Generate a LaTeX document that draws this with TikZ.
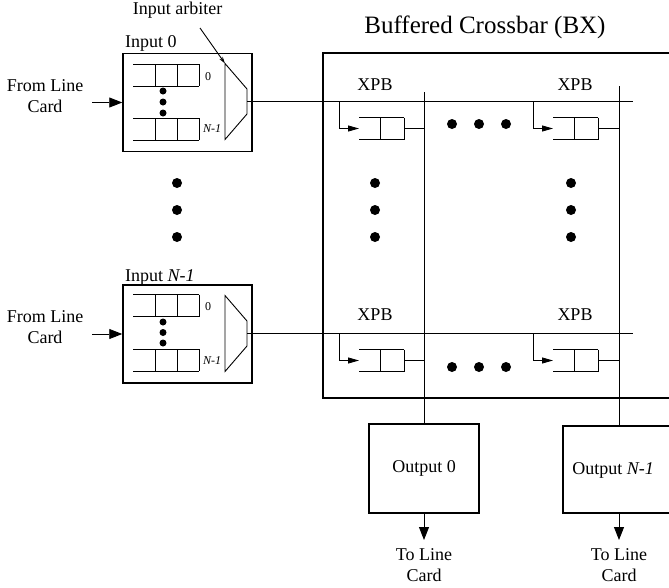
\documentclass[tikz,border=0pt]{standalone}
\usepackage{fontspec}
\setmainfont{Liberation Serif}
\usetikzlibrary{arrows.meta}
\begin{document}
\begin{tikzpicture}[x=1pt,y=-1pt,
  thinline/.style={line width=0.9pt},
  boxline/.style={line width=1.5pt},
  lbl/.style={font=\fontsize{18}{21}\selectfont, inner sep=0pt, align=center},
  ttl/.style={font=\fontsize{25}{28}\selectfont, inner sep=0pt},
  smalllbl/.style={font=\fontsize{12}{14}\selectfont, inner sep=0pt},
  bigdot/.style={circle, fill=black, inner sep=0pt, minimum size=10pt},
  smalldot/.style={circle, fill=black, inner sep=0pt, minimum size=7pt},
  bigtip/.style={-{Triangle[length=13pt,width=10pt]}},
  xtip/.style={-{Triangle[length=11pt,width=6pt]}},
  inbox/.style={draw, boxline, minimum width=129pt, minimum height=98pt, inner sep=0pt},
  outbox/.style={draw, boxline, minimum width=110pt, minimum height=89pt, inner sep=0pt},
  inq/.pic={\draw[thinline] (0,-11) -- (66,-11) (0,11) -- (66,11)
      (22,-11) -- (22,11) (44,-11) -- (44,11) (66,-11) -- (66,11);},
  arbiter/.pic={\draw[thinline] (0,-38) -- (22,-12.5) -- (22,12.5) -- (0,38) -- cycle;},
  xpb/.pic={\draw[thinline, xtip] (0,0) -- (0,27) -- (20,27);
      \draw[thinline] (20,16) -- (65,16) (20,38) -- (65,38)
      (41,16) -- (41,38) (65,16) -- (65,38) (65,27) -- (86,27);},
]
\useasboundingbox (0,0) rectangle (669,587);

% ---------- title ----------
\node[ttl] (title) at (485,27) {Buffered Crossbar (BX)};

% ---------- input 0 ----------
\node[lbl] (arbtxt) at (177.5,10) {Input arbiter};
\node[lbl, anchor=west] (in0lbl) at (125,43) {Input 0};
\node[inbox] (in0) at (187.5,102.5) {};
\pic at (133,75) {inq};
\pic at (133,129) {inq};
\node[smalllbl] (q00) at (208,77) {0};
\node[smalllbl] (q0n) at (212,129) {\itshape N-1};
\node[smalldot] (sd01) at (163,91) {};
\node[smalldot] (sd02) at (163,102) {};
\node[smalldot] (sd03) at (163,113) {};
\pic at (225,101.5) {arbiter};
\coordinate (arb0) at (247,101.5);
\coordinate (arbtop0) at (225,63.5);
\coordinate (arbsrc) at (200,28);
\draw[thinline, -{Stealth[length=7pt,width=4pt]}] (arbsrc) -- (arbtop0);
\node[lbl] (flc0) at (45,96.5) {From Line\\Card};
\coordinate (fa0) at (92,102.5);
\draw[thinline, bigtip] (fa0) -- (in0.west);

% ---------- input N-1 ----------
\node[lbl, anchor=west] (in1lbl) at (125,277) {Input \textit{N-1}};
\node[inbox] (in1) at (187.5,334) {};
\pic at (133,305.5) {inq};
\pic at (133,360) {inq};
\node[smalllbl] (q10) at (208,307) {0};
\node[smalllbl] (q1n) at (212,361) {\itshape N-1};
\node[smalldot] (sd11) at (163,322) {};
\node[smalldot] (sd12) at (163,332.5) {};
\node[smalldot] (sd13) at (163,343) {};
\pic at (225,333.5) {arbiter};
\coordinate (arb1) at (247,333.5);
\node[lbl] (flc1) at (45,327) {From Line\\Card};
\coordinate (fa1) at (92,334);
\draw[thinline, bigtip] (fa1) -- (in1.west);

% ---------- dots between inputs ----------
\node[bigdot] (ld1) at (177,183) {};
\node[bigdot] (ld2) at (177,210) {};
\node[bigdot] (ld3) at (177,237) {};

% ---------- crossbar ----------
\draw[boxline] (669,53) -- (323,53) -- (323,398) -- (669,398);

\coordinate (row0end) at (633,101.5);
\coordinate (row1end) at (633,333.5);
\draw[thinline] (arb0) -- (row0end);
\draw[thinline] (arb1) -- (row1end);

% outputs
\node[outbox, lbl] (out0) at (424,468.5) {Output 0};
\draw[boxline] (669,426) -- (563,426) -- (563,513) -- (669,513);
\node[lbl] (out1) at (613,470) {Output \textit{N-1}};
\coordinate (out1top) at (619,426);
\coordinate (out1bot) at (619,513);

\coordinate (col0top) at (424,92);
\coordinate (col1top) at (619,86);
\draw[thinline] (col0top) -- (out0.north);
\draw[thinline] (col1top) -- (out1top);

% XPB cells
\node[lbl] (x00) at (375,85) {XPB};
\node[lbl] (x01) at (575,85) {XPB};
\node[lbl] (x10) at (375,315) {XPB};
\node[lbl] (x11) at (575,315) {XPB};
\pic at (339,101.5) {xpb};
\pic at (533,101.5) {xpb};
\pic at (339,333.5) {xpb};
\pic at (533,333.5) {xpb};

% dots in crossbar
\node[bigdot] (h01) at (452,124) {};
\node[bigdot] (h02) at (479,124) {};
\node[bigdot] (h03) at (506,124) {};
\node[bigdot] (h11) at (452,367) {};
\node[bigdot] (h12) at (479,367) {};
\node[bigdot] (h13) at (506,367) {};
\node[bigdot] (v01) at (375,183) {};
\node[bigdot] (v02) at (375,210) {};
\node[bigdot] (v03) at (375,237) {};
\node[bigdot] (v11) at (571,183) {};
\node[bigdot] (v12) at (571,210) {};
\node[bigdot] (v13) at (571,237) {};

% output arrows
\coordinate (ae0) at (424,540);
\coordinate (ae1) at (619,540);
\draw[thinline, bigtip] (out0.south) -- (ae0);
\draw[thinline, bigtip] (out1bot) -- (ae1);
\node[lbl] (tl0) at (424,565) {To Line\\Card};
\node[lbl] (tl1) at (619,565) {To Line\\Card};
\end{tikzpicture}
\end{document}
